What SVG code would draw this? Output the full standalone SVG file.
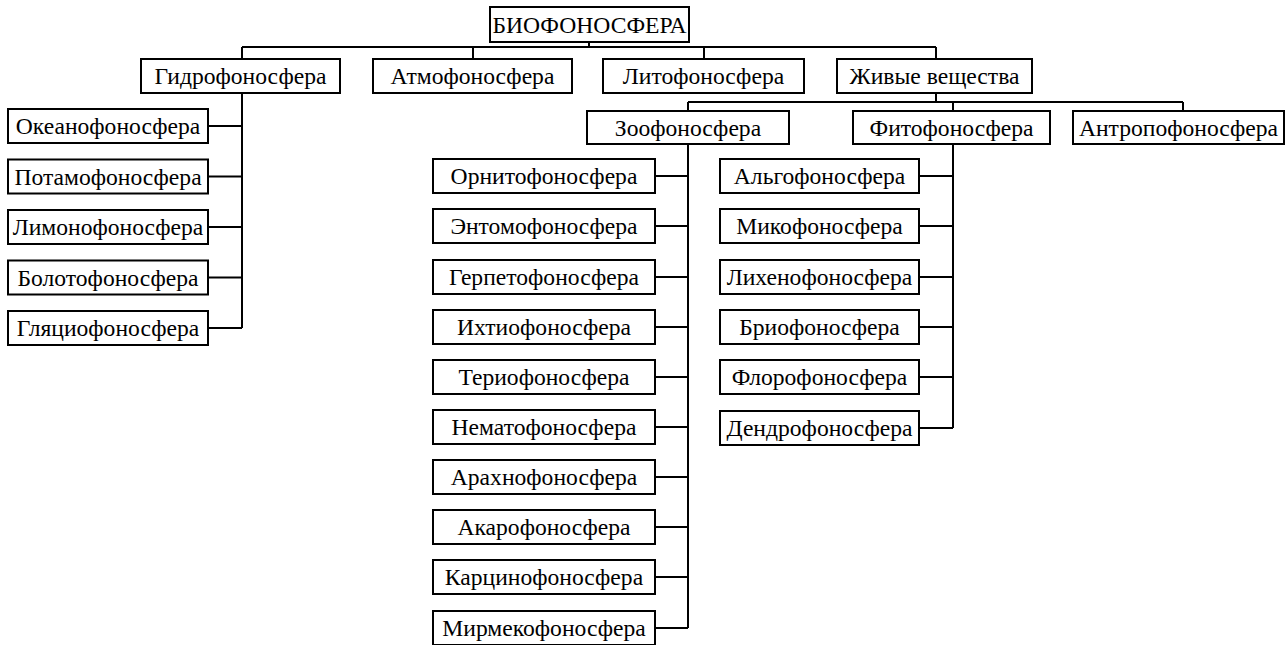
<svg xmlns="http://www.w3.org/2000/svg" width="1286" height="645" viewBox="0 0 1286 645">
  <style>
    .node rect { fill: #ffffff; stroke: #000000; stroke-width: 2; }
    .node text { font-family: "Liberation Serif", "Times New Roman", serif; font-size: 23.6px; fill: #000000; text-anchor: middle; }
    #connectors path { fill: none; stroke: #000000; stroke-width: 2; }
  </style>
  <rect x="0" y="0" width="1286" height="645" fill="#ffffff"/>

  <!-- tree connectors -->
  <g id="connectors">
    <!-- root to first level -->
    <path d="M589,42 V47 M242,47 H936 M242,47 V59 M473,47 V59 M704,47 V59 M936,47 V59"/>
    <!-- living matter to second level -->
    <path d="M936,93 V102 M688,102 H1183 M688,102 V111 M953,102 V111 M1183,102 V111"/>
    <!-- hydro branch -->
    <path d="M242,93 V328 M208,126 H242 M208,176.5 H242 M208,227 H242 M208,277.5 H242 M208,328 H242"/>
    <!-- zoo branch -->
    <path d="M688,144 V628 M655,176 H688 M655,226 H688 M655,277 H688 M655,327 H688 M655,377 H688 M655,427 H688 M655,477 H688 M655,527 H688 M655,577 H688 M655,628 H688"/>
    <!-- phyto branch -->
    <path d="M953,144 V428 M919,176 H953 M919,226 H953 M919,277 H953 M919,327 H953 M919,377 H953 M919,428 H953"/>
  </g>

  <!-- root -->
  <g id="biophonosphere" class="node"><rect x="490" y="7" width="199" height="35"/><text x="589.5" y="33">БИОФОНОСФЕРА</text></g>

  <!-- first level -->
  <g id="hydro" class="node"><rect x="141" y="59" width="199" height="34"/><text x="240.5" y="84">Гидрофоносфера</text></g>
  <g id="atmo" class="node"><rect x="373" y="59" width="199" height="34"/><text x="472.5" y="84">Атмофоносфера</text></g>
  <g id="litho" class="node"><rect x="603" y="59" width="201" height="34"/><text x="703.5" y="84">Литофоносфера</text></g>
  <g id="living" class="node"><rect x="837" y="59" width="195" height="34"/><text x="934.5" y="84">Живые вещества</text></g>

  <!-- second level -->
  <g id="zoo" class="node"><rect x="587" y="111" width="202" height="33"/><text x="688" y="136">Зоофоносфера</text></g>
  <g id="phyto" class="node"><rect x="853" y="111" width="197" height="33"/><text x="951.5" y="136">Фитофоносфера</text></g>
  <g id="anthropo" class="node"><rect x="1073" y="111" width="211" height="33"/><text x="1178.5" y="136">Антропофоносфера</text></g>

  <!-- hydrosphere children -->
  <g id="oceano" class="node"><rect x="8" y="109" width="200" height="34"/><text x="108" y="134">Океанофоносфера</text></g>
  <g id="potamo" class="node"><rect x="8" y="159.5" width="200" height="34"/><text x="108" y="184.5">Потамофоносфера</text></g>
  <g id="limno" class="node"><rect x="8" y="210" width="200" height="34"/><text x="108" y="235">Лимонофоносфера</text></g>
  <g id="boloto" class="node"><rect x="8" y="260.5" width="200" height="34"/><text x="108" y="285.5">Болотофоносфера</text></g>
  <g id="glacio" class="node"><rect x="8" y="311" width="200" height="34"/><text x="108" y="336">Гляциофоносфера</text></g>

  <!-- zoo children -->
  <g id="ornito" class="node"><rect x="433" y="159" width="222" height="34"/><text x="544" y="184">Орнитофоносфера</text></g>
  <g id="entomo" class="node"><rect x="433" y="209" width="222" height="34"/><text x="544" y="234">Энтомофоносфера</text></g>
  <g id="herpeto" class="node"><rect x="433" y="260" width="222" height="34"/><text x="544" y="285">Герпетофоносфера</text></g>
  <g id="ichthyo" class="node"><rect x="433" y="310" width="222" height="34"/><text x="544" y="335">Ихтиофоносфера</text></g>
  <g id="therio" class="node"><rect x="433" y="360" width="222" height="34"/><text x="544" y="385">Териофоносфера</text></g>
  <g id="nemato" class="node"><rect x="433" y="410" width="222" height="34"/><text x="544" y="435">Нематофоносфера</text></g>
  <g id="arachno" class="node"><rect x="433" y="460" width="222" height="34"/><text x="544" y="485">Арахнофоносфера</text></g>
  <g id="acaro" class="node"><rect x="433" y="510" width="222" height="34"/><text x="544" y="535">Акарофоносфера</text></g>
  <g id="carcino" class="node"><rect x="433" y="560" width="222" height="34"/><text x="544" y="585">Карцинофоносфера</text></g>
  <g id="myrmeco" class="node"><rect x="433" y="611" width="222" height="34"/><text x="544" y="636">Мирмекофоносфера</text></g>

  <!-- phyto children -->
  <g id="algo" class="node"><rect x="720" y="159" width="199" height="34"/><text x="819.5" y="184">Альгофоносфера</text></g>
  <g id="myco" class="node"><rect x="720" y="209" width="199" height="34"/><text x="819.5" y="234">Микофоносфера</text></g>
  <g id="licheno" class="node"><rect x="720" y="260" width="199" height="34"/><text x="819.5" y="285">Лихенофоносфера</text></g>
  <g id="bryo" class="node"><rect x="720" y="310" width="199" height="34"/><text x="819.5" y="335">Бриофоносфера</text></g>
  <g id="floro" class="node"><rect x="720" y="360" width="199" height="34"/><text x="819.5" y="385">Флорофоносфера</text></g>
  <g id="dendro" class="node"><rect x="720" y="411" width="199" height="34"/><text x="819.5" y="436">Дендрофоносфера</text></g>
</svg>
